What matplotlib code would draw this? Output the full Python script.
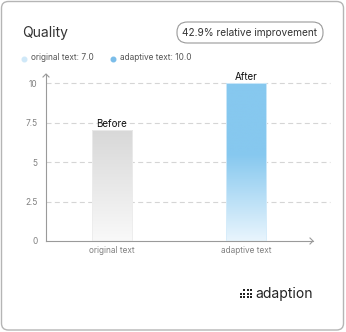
import numpy as np
import matplotlib
matplotlib.use("Agg")
import matplotlib.pyplot as plt
from matplotlib.patches import FancyBboxPatch, Rectangle
from matplotlib.colors import to_rgb

categories = ["original text", "adaptive text"]
values = [7.0, 10.0]
bar_labels = ["Before", "After"]
legend_labels = ["original text: 7.0", "adaptive text: 10.0"]
yticks = [0, 2.5, 5, 7.5, 10]
ytick_labels = ["0", "2.5", "5", "7.5", "10"]
title = "Quality"
badge = "42.9% relative improvement"

plt.rcParams['font.family'] = ['Inter', 'DejaVu Sans']

W, H = 346, 332
fig = plt.figure(figsize=(W / 100, H / 100), dpi=100)
fig.patch.set_facecolor("white")

def fx(px):
    return px / W

def fy(py):
    return 1 - py / H

# card border
card = FancyBboxPatch((fx(1.5), fy(330)), fx(342), 328.5 / H,
                      boxstyle="round,pad=0,rounding_size=0.02",
                      transform=fig.transFigure, facecolor="white",
                      edgecolor="#b5b5b5", linewidth=1.0, zorder=-5)
fig.patches.append(card)

ax = fig.add_axes([fx(46), fy(241), fx(313) - fx(46), fy(74) - fy(241)])
ax.set_zorder(2)
ax.patch.set_alpha(0)

for s in ["top", "right"]:
    ax.spines[s].set_visible(False)
for s in ["left", "bottom"]:
    ax.spines[s].set_color("#9a9a9a")
    ax.spines[s].set_linewidth(0.8)

ax.set_yticks(yticks)
ax.set_yticklabels(ytick_labels)
ax.set_xticks(range(len(categories)))
ax.set_xticklabels(categories)
ax.tick_params(axis="both", length=0, labelsize=6, colors="#808080")
ax.tick_params(axis="y", pad=6)
ax.tick_params(axis="x", pad=3.5)

# gridlines
for t in yticks[1:]:
    ax.axhline(t, xmin=0, xmax=(330 - 46) / (313 - 46), color="#d5d5d5",
               linestyle=(0, (4.5, 3)), linewidth=0.8, clip_on=False, zorder=0)

# gradient bars
bw = 0.3
def grad_bar(x, h, top, bottom, hold):
    n = 256
    t = np.linspace(0, 1, n)  # 0 bottom -> 1 top
    frac = np.clip(t / (1 - hold), 0, 1)
    top = np.array(to_rgb(top)); bottom = np.array(to_rgb(bottom))
    cols = bottom[None, :] + (top - bottom)[None, :] * frac[:, None]
    img = cols[::-1][:, None, :]
    ax.imshow(img, extent=[x - bw / 2, x + bw / 2, 0, h], aspect="auto",
              origin="upper", zorder=2, interpolation="bilinear")

grad_bar(0, values[0], "#d8d8d8", "#f9f9f9", 0.0)
grad_bar(1, values[1], "#86c8ef", "#e9f5fd", 0.45)
ax.set_xlim(-0.49, 1.5)
ax.set_ylim(0, 10.57)
for i, (v, ec) in enumerate(zip(values, ["#ececec", "#d6ecfa"])):
    ax.add_patch(Rectangle((i - bw / 2, 0), bw, v, fill=False, edgecolor=ec,
                           linewidth=0.6, zorder=3))
    ax.text(i, v + 0.08, bar_labels[i], ha="center", va="bottom",
            fontsize=7, color="#111111", zorder=4)

# axis arrows
def chevron(pts):
    xs = [fx(p[0]) for p in pts]
    ys = [fy(p[1]) for p in pts]
    fig.add_artist(plt.Line2D(xs, ys, transform=fig.transFigure,
                              color="#9a9a9a", linewidth=0.8))
chevron([(43, 77), (46, 74), (49, 77)])
chevron([(310, 238), (313, 241), (310, 244)])

# title
fig.text(fx(22), fy(33), title, fontsize=10, color="#333333", va="center", ha="left")

# badge
bx0, by0, bx1, by1 = 177, 22, 323, 43
badge_patch = FancyBboxPatch((fx(bx0), fy(by1)), fx(bx1 - bx0), (by1 - by0) / H,
                             boxstyle="round,pad=0,rounding_size=0.03",
                             transform=fig.transFigure, facecolor="white",
                             edgecolor="#9a9a9a", linewidth=0.8)
fig.patches.append(badge_patch)
fig.text(fx((bx0 + bx1) / 2), fy(32.5), badge, fontsize=7.3, color="#333333",
         ha="center", va="center")

# legend
leg_cols = ["#cfe8f8", "#7bbde9"]
leg_x = [24, 113]
for lx, c, lab in zip(leg_x, leg_cols, legend_labels):
    fig.add_artist(plt.Line2D([fx(lx)], [fy(58.5)], transform=fig.transFigure,
                              marker="o", markersize=3.3, color=c, linestyle="none"))
    fig.text(fx(lx + 7), fy(58), lab, fontsize=6, color="#555555",
             ha="left", va="center")

# logo
for r in range(3):
    for cidx in range(4):
        if r == 0 and cidx < 1:
            continue
        fig.add_artist(plt.Line2D([fx(241 + cidx * 3.4)], [fy(290 + r * 3.6)],
                                  transform=fig.transFigure, marker="s",
                                  markersize=1.7, markeredgewidth=0,
                                  color="#222222", linestyle="none"))
fig.text(fx(255), fy(294), "adaption", fontsize=10, color="#222222",
         ha="left", va="center")

fig.savefig("out.png", dpi=100, facecolor="white")
